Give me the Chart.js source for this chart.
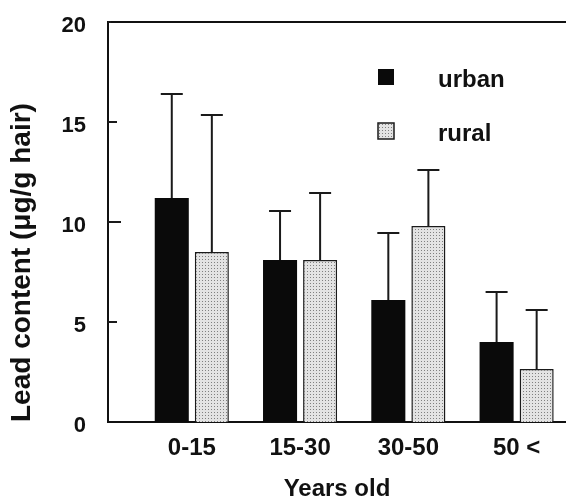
<!DOCTYPE html>
<html><head><meta charset="utf-8">
<script src="https://cdn.jsdelivr.net/npm/chart.js@4/dist/chart.umd.min.js"></script>
<style>html,body{margin:0;padding:0;background:#fff}#wrap{width:566px;height:499px;position:relative}</style>
</head><body><div id="wrap"><canvas id="c"></canvas></div>
<script>
const categories = ['0-15', '15-30', '30-50', '50 <'];
const seriesNames = ['urban', 'rural'];
const urbanMean = [11.2, 8.1, 6.1, 4.0];
const urbanSD = [5.2, 2.45, 3.35, 2.5];
const ruralMean = [8.5, 8.1, 9.8, 2.65];
const ruralSD = [6.85, 3.35, 2.8, 2.95];
const yTicks = [0, 5, 10, 15, 20];
const xTitle = 'Years old';
const yTitle = 'Lead content (μg/g hair)';

const FONT = '"Liberation Sans", Arial, Helvetica, sans-serif';
Chart.defaults.font.family = FONT;
Chart.defaults.color = '#111';

const canvas = document.getElementById('c');
const ctx0 = canvas.getContext('2d');
function makePattern() {
  const c = document.createElement('canvas'); c.width = 3; c.height = 3;
  const g = c.getContext('2d');
  g.fillStyle = '#e3e3e3'; g.fillRect(0, 0, 3, 3);
  g.fillStyle = '#808080'; g.fillRect(1, 1, 1, 1);
  return ctx0.createPattern(c, 'repeat');
}
const stipple = makePattern();

const errorBars = {
  id: 'errorBars',
  afterDatasetsDraw(chart) {
    const ctx = chart.ctx, y = chart.scales.y;
    chart.data.datasets.forEach((ds, di) => {
      const meta = chart.getDatasetMeta(di);
      meta.data.forEach((bar, i) => {
        const top = y.getPixelForValue(ds.data[i].y + ds.sd[i]);
        ctx.save();
        ctx.strokeStyle = '#1a1a1a'; ctx.lineWidth = 2;
        ctx.beginPath();
        ctx.moveTo(bar.x, bar.y); ctx.lineTo(bar.x, top);
        ctx.moveTo(bar.x - 11, top); ctx.lineTo(bar.x + 11, top);
        ctx.stroke();
        ctx.restore();
      });
    });
  }
};

const innerTicks = {
  id: 'innerTicks',
  afterDraw(chart) {
    const ctx = chart.ctx, y = chart.scales.y, left = chart.chartArea.left;
    ctx.save();
    ctx.strokeStyle = '#1a1a1a'; ctx.lineWidth = 2;
    yTicks.forEach(v => {
      if (v === 0) return;
      const py = y.getPixelForValue(v);
      ctx.beginPath(); ctx.moveTo(left, py); ctx.lineTo(left + (v === 20 ? 3 : (v === 10 ? 13 : 9)), py); ctx.stroke();
    });
    ctx.restore();
  }
};

const boxLegend = {
  id: 'boxLegend',
  afterDraw(chart) {
    const ctx = chart.ctx;
    const rows = [77, 131];
    ctx.save();
    chart.data.datasets.forEach((ds, i) => {
      const cy = rows[i];
      ctx.fillStyle = ds.backgroundColor;
      ctx.fillRect(378, cy - 8, 16, 16);
      if (ds.borderWidth) {
        ctx.strokeStyle = ds.borderColor; ctx.lineWidth = 1.5;
        ctx.strokeRect(378, cy - 8, 16, 16);
      }
      ctx.fillStyle = '#111';
      ctx.font = 'bold 24px ' + FONT;
      ctx.textBaseline = 'middle';
      ctx.textAlign = 'left';
      ctx.fillText(ds.label, 438, cy + 3);
    });
    ctx.restore();
  }
};

new Chart(canvas, {
  type: 'bar',
  data: {
    datasets: [
      { label: seriesNames[0], data: urbanMean.map((v, i) => ({ x: i, y: v })), sd: urbanSD,
        backgroundColor: '#0a0a0a', borderColor: '#0a0a0a', borderWidth: 0,
        categoryPercentage: 0.74, barPercentage: 0.85 },
      { label: seriesNames[1], data: ruralMean.map((v, i) => ({ x: i, y: v })), sd: ruralSD,
        backgroundColor: stipple, borderColor: '#1a1a1a', borderWidth: 1.5,
        categoryPercentage: 0.74, barPercentage: 0.85 }
    ]
  },
  options: {
    responsive: true, maintainAspectRatio: false, animation: false,
    layout: { padding: { top: 22, right: 0, bottom: 0, left: 0 } },
    plugins: { legend: { display: false }, tooltip: { enabled: false } },
    scales: {
      x: {
        type: 'linear', position: 'bottom', min: -0.774, max: 3.456, offset: false,
        afterBuildTicks: s => { s.ticks = categories.map((_, i) => ({ value: i })); },
        afterFit: s => { s.height = 77; s.paddingLeft = 0; s.paddingRight = 0; },
        grid: { display: false, drawTicks: false, offset: false },
        border: { display: true, color: '#111', width: 2 },
        ticks: { callback: v => categories[v], font: { size: 24, weight: 'bold' }, color: '#111',
                 padding: 12, maxRotation: 0, autoSkip: false },
        title: { display: true, text: xTitle, color: '#111',
                 font: { size: 24, weight: 'bold', lineHeight: 1 }, padding: { top: 0, bottom: -2 } }
      },
      xTop: {
        type: 'linear', position: 'top', min: -0.774, max: 3.456, offset: false,
        afterFit: s => { s.height = 0; },
        grid: { display: false, drawTicks: false },
        border: { display: true, color: '#111', width: 2 },
        ticks: { display: false }
      },
      y: {
        min: 0, max: 20,
        afterBuildTicks: s => { s.ticks = yTicks.map(v => ({ value: v })); },
        afterFit: s => { s.width = 108; s.paddingTop = 0; s.paddingBottom = 0; },
        grid: { display: false, drawTicks: false },
        border: { display: true, color: '#111', width: 2 },
        ticks: { font: { size: 22, weight: 'bold' }, color: '#111', padding: 22, labelOffset: 4 },
        title: { display: true, text: yTitle, align: 'start', color: '#111',
                 font: { size: 28, weight: 'bold' }, padding: { top: 5, bottom: 0 } }
      }
    }
  },
  plugins: [errorBars, innerTicks, boxLegend]
});
</script>
</body></html>
